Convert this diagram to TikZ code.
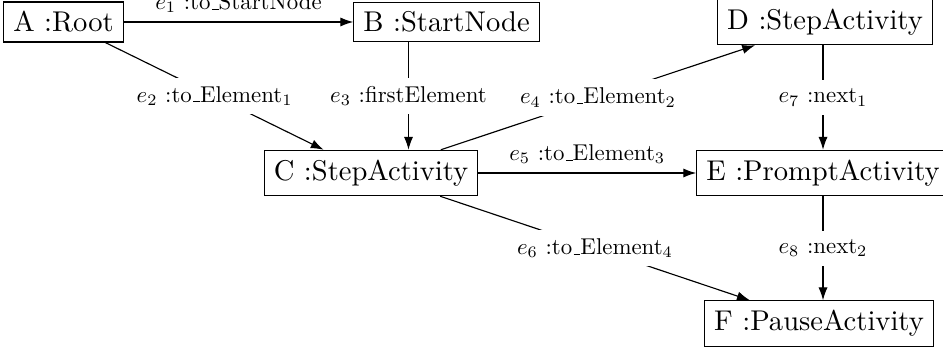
\documentclass[tikz,border=0pt]{standalone}
\usetikzlibrary{arrows.meta}
\newcommand\usc{\leavevmode\kern.06em\vbox{\hrule width.3em}}
\newcommand\lbl[1]{\scalebox{0.8}{#1}}
\begin{document}
\begin{tikzpicture}[x=0.35pt,y=-0.35pt,
  obj/.style={draw,fill=white,font=\normalsize},
  lab/.style={fill=white,inner sep=3pt},
  labup/.style={above,inner sep=3pt},
  arr/.style={-{Latex[length=4.5pt,width=3.2pt]}}]
\useasboundingbox (0,0) rectangle (943,352);
\clip (0,0) rectangle (943,352);
\node[obj] (A) at (63.5,22) {A :Root};
\node[obj] (B) at (446.5,22) {B :StartNode};
\node[obj] (D) at (825,22) {D :StepActivity};
\node[obj] (C) at (371,173) {C :StepActivity};
\node[obj] (E) at (823,173) {E :PromptActivity};
\node[obj] (F) at (819,323.5) {F :PauseActivity};
\coordinate (bc) at (408.5,0);
\coordinate (ef) at (823,0);
\draw[arr] (A) -- node[labup] {\lbl{$e_1$ :to\usc StartNode}} (B);
\draw[arr] (A) -- node[lab] {\lbl{$e_2$ :to\usc Element$_1$}} (C);
\draw[arr] (B.south -| bc) -- node[lab] {\lbl{$e_3$ :firstElement}} (C.north -| bc);
\draw[arr] (C) -- node[lab] {\lbl{$e_4$ :to\usc Element$_2$}} (D);
\draw[arr] (C) -- node[labup] {\lbl{$e_5$ :to\usc Element$_3$}} (E);
\draw[arr] (C) -- node[lab] {\lbl{$e_6$ :to\usc Element$_4$}} (F);
\draw[arr] (D.south -| ef) -- node[lab] {\lbl{$e_7$ :next$_1$}} (E.north -| ef);
\draw[arr] (E.south -| ef) -- node[lab] {\lbl{$e_8$ :next$_2$}} (F.north -| ef);
\end{tikzpicture}
\end{document}
